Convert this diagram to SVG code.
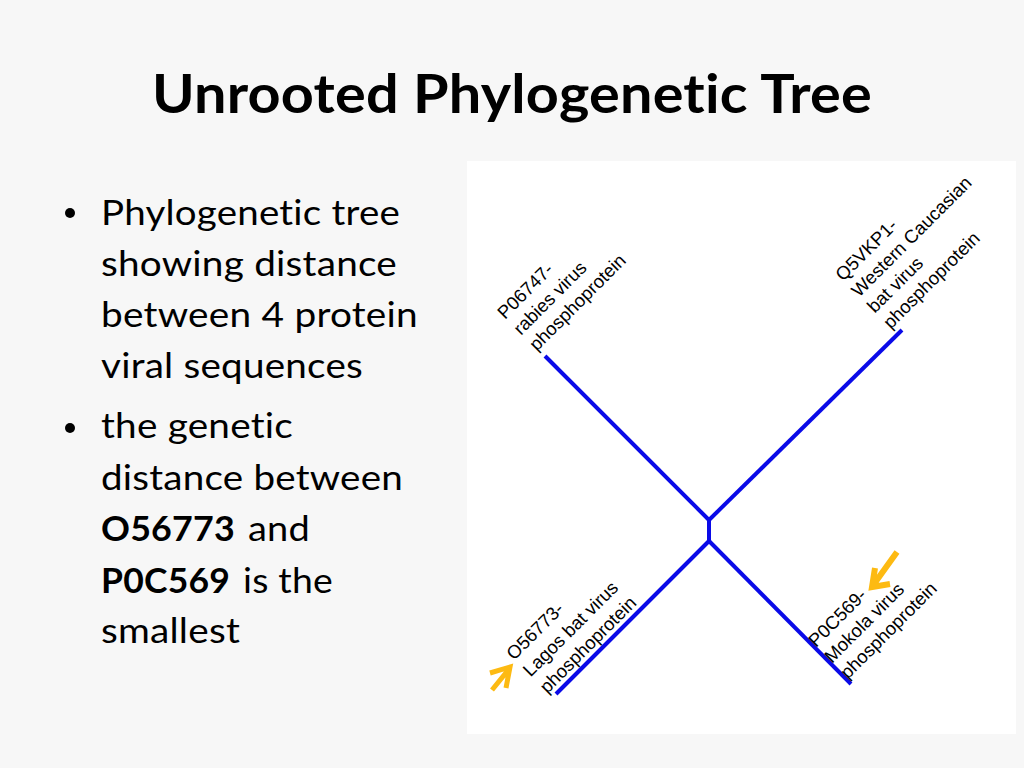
<svg xmlns="http://www.w3.org/2000/svg" width="1024" height="768" viewBox="0 0 1024 768">
<style>
text{font-variant-ligatures:none;font-feature-settings:"liga" 0,"clig" 0}
.title{font-family:Lato,"Open Sans","Liberation Sans",sans-serif;font-weight:bold;font-size:54px;fill:#000;letter-spacing:0.2px}
.body{font-family:Lato,"Open Sans","Liberation Sans",sans-serif;font-size:34px;fill:#000;letter-spacing:0.2px}
.b{font-weight:bold}
.lbl{font-family:"Liberation Sans",Arial,sans-serif;font-size:18.5px;fill:#000}
.branch{stroke:#0a0ae8;stroke-width:4;fill:none;stroke-linecap:butt}
.arrow{stroke:#FDBA12;fill:none;stroke-linejoin:miter;stroke-linecap:butt}
</style>
<rect x="0" y="0" width="1024" height="768" fill="#f7f7f7"/>
<text class="title" x="152" y="113" textLength="720" lengthAdjust="spacingAndGlyphs">Unrooted Phylogenetic Tree</text>
<g id="bullets">
<circle cx="70" cy="213" r="5" fill="#000"/>
<text class="body" x="101" y="225" textLength="299" lengthAdjust="spacingAndGlyphs">Phylogenetic tree</text>
<text class="body" x="101" y="276" textLength="296" lengthAdjust="spacingAndGlyphs">showing distance</text>
<text class="body" x="101" y="327" textLength="317" lengthAdjust="spacingAndGlyphs">between 4 protein</text>
<text class="body" x="101" y="378" textLength="262" lengthAdjust="spacingAndGlyphs">viral sequences</text>
<circle cx="70" cy="428" r="5" fill="#000"/>
<text class="body" x="101" y="438" textLength="192" lengthAdjust="spacingAndGlyphs">the genetic</text>
<text class="body" x="101" y="490" textLength="302" lengthAdjust="spacingAndGlyphs">distance between</text>
<text class="body b" x="101" y="541" textLength="134" lengthAdjust="spacingAndGlyphs">O56773</text>
<text class="body" x="248" y="541" textLength="62" lengthAdjust="spacingAndGlyphs">and</text>
<text class="body b" x="101" y="593" textLength="129" lengthAdjust="spacingAndGlyphs">P0C569</text>
<text class="body" x="243" y="593" textLength="90" lengthAdjust="spacingAndGlyphs">is the</text>
<text class="body" x="101" y="643" textLength="139" lengthAdjust="spacingAndGlyphs">smallest</text>
</g>
<rect id="picture" x="467" y="161" width="549" height="573" fill="#ffffff"/>
<g id="connectors">
<line class="branch" x1="545" y1="356" x2="709" y2="520"/>
<line class="branch" x1="902" y1="330" x2="709" y2="520"/>
<line class="branch" x1="709" y1="518" x2="709" y2="543"/>
<line class="branch" x1="709" y1="541" x2="556" y2="694"/>
<line class="branch" x1="709" y1="541" x2="851" y2="684"/>
</g>
<g id="leaf-P06747" transform="translate(505,320) rotate(-45)">
<text class="lbl" x="0" y="0">P06747-</text>
<text class="lbl" x="0" y="22.5">rabies virus</text>
<text class="lbl" x="0" y="45">phosphoprotein</text>
</g>
<g id="leaf-Q5VKP1" transform="translate(843,282) rotate(-45)">
<text class="lbl" x="0" y="0">Q5VKP1-</text>
<text class="lbl" x="0" y="22.5">Western Caucasian</text>
<text class="lbl" x="0" y="45">bat virus</text>
<text class="lbl" x="0" y="67.5">phosphoprotein</text>
</g>
<g id="leaf-O56773" transform="translate(514,661) rotate(-45)">
<text class="lbl" x="0" y="0">O56773-</text>
<text class="lbl" x="0" y="23.5">Lagos bat virus</text>
<text class="lbl" x="0" y="47">phosphoprotein</text>
</g>
<g id="leaf-P0C569" transform="translate(816,648) rotate(-45)">
<text class="lbl" x="0" y="0">P0C569-</text>
<text class="lbl" x="0" y="22.5">Mokola virus</text>
<text class="lbl" x="0" y="45">phosphoprotein</text>
</g>
<g id="arrows">
<path class="arrow" stroke-width="5" d="M492,690 L509,669 M490,673 L510,667 L506,688"/>
<path class="arrow" stroke-width="6" d="M897,552 L874,584 M875,568 L872,587 L890,584"/>
</g>
</svg>
